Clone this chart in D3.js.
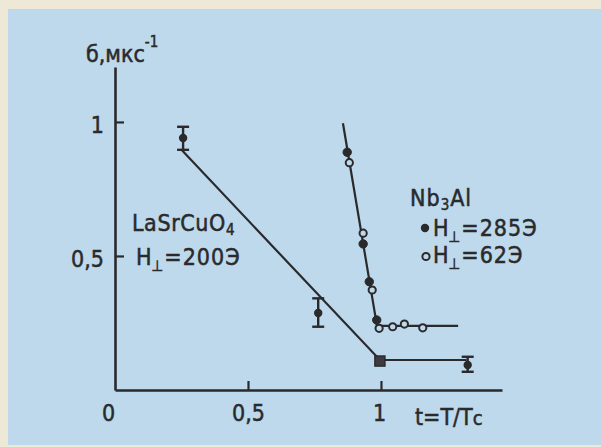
<!DOCTYPE html>
<html><head><meta charset="utf-8">
<script src="https://cdn.jsdelivr.net/npm/d3@7"></script>
<style>
html,body{margin:0;padding:0;background:#eee8d7;}
svg{display:block;}
text{font-family:"DejaVu Sans Condensed","Liberation Sans Narrow","DejaVu Sans",sans-serif;font-stretch:condensed;fill:#2a2a2d;stroke:#2a2a2d;stroke-width:0.5px;}
</style></head><body>
<svg id="chart" width="601" height="447"></svg>
<script>
// LaSrCuO4, H⊥ = 200 Э: relaxation rate with error bars
const laT = [0.256, 0.764, 0.996, 1.326];
const laSigma = [0.940, 0.287, 0.108, 0.093];
const laLow = [0.896, 0.236, null, 0.068];
const laHigh = [0.982, 0.342, null, 0.124];
const laFitT = [0.25, 0.996, 1.322];
const laFitSigma = [0.896, 0.112, 0.112];

// Nb3Al: H⊥ = 285 Э (filled) and H⊥ = 62 Э (open)
const nbT285 = [0.873, 0.933, 0.956, 0.984];
const nbSigma285 = [0.887, 0.545, 0.404, 0.261];
const nbT62 = [0.881, 0.933, 0.967, 0.993, 1.044, 1.088, 1.157];
const nbSigma62 = [0.848, 0.585, 0.373, 0.230, 0.236, 0.246, 0.232];
const nbFitT = [0.857, 0.985, 1.29];
const nbFitSigma = [0.995, 0.239, 0.239];

const xTicks = [0, 0.5, 1];
const xTickLabels = ["0", "0,5", "1"];
const yTicks = [0.5, 1];
const yTickLabels = ["0,5", "1"];

const ink = "#2a2a2d";
const svg = d3.select("#chart");

// paper and tinted panel
svg.append("rect").attr("width", 601).attr("height", 447).attr("fill", "#eee8d7");
svg.append("rect").attr("x", 8).attr("y", 9).attr("width", 593).attr("height", 436).attr("fill", "#bdd9eb");

const x = d3.scaleLinear().domain([0, 1.455]).range([115, 502]);
const y = d3.scaleLinear().domain([0, 1.205]).range([390, 67]);

// axes
const xAxis = d3.axisBottom(x).tickValues(xTicks)
  .tickFormat((d, i) => xTickLabels[i]).tickSizeInner(-9).tickSizeOuter(0).tickPadding(15);
const yAxis = d3.axisLeft(y).tickValues(yTicks)
  .tickFormat((d, i) => yTickLabels[i]).tickSizeInner(-9).tickSizeOuter(0).tickPadding(11);

const gx = svg.append("g").attr("transform", `translate(0,${y(0)})`).call(xAxis);
const gy = svg.append("g").attr("transform", `translate(${x(0)},0)`).call(yAxis);

[gx, gy].forEach(g => {
  g.select(".domain").attr("stroke", ink).attr("stroke-width", 2.6);
  g.selectAll(".tick line").attr("stroke", ink).attr("stroke-width", 2.2);
  g.selectAll(".tick text").attr("fill", ink).style("font-size", "23px").attr("font-family", null);
});
gx.selectAll(".tick").filter(d => d === 0).select("line").remove();
gx.selectAll(".tick").filter(d => d === 0).select("text").attr("dx", -7);
gx.selectAll(".tick").filter(d => d === 1).select("text").attr("dx", -2);
gy.selectAll(".tick text").attr("dy", "0.45em");

// axis titles
const yTitle = svg.append("text").attr("x", 86).attr("y", 62).style("font-size", "23px");
yTitle.append("tspan").text("б,мкс");
yTitle.append("tspan").attr("dy", -15).style("font-size", "15px").text("-1");

const xTitle = svg.append("text").attr("x", 415).attr("y", 425).style("font-size", "23px");
xTitle.append("tspan").text("t=T/T");
xTitle.append("tspan").style("font-size", "20px").text("c");

// fitted lines
const line = d3.line().x(d => x(d[0])).y(d => y(d[1]));
svg.append("path").datum(d3.zip(laFitT, laFitSigma)).attr("d", line)
  .attr("fill", "none").attr("stroke", ink).attr("stroke-width", 2.2);
svg.append("path").datum(d3.zip(nbFitT, nbFitSigma)).attr("d", line)
  .attr("fill", "none").attr("stroke", ink).attr("stroke-width", 2.2);

// LaSrCuO4 error bars and points
const la = laT.map((t, i) => ({t, s: laSigma[i], lo: laLow[i], hi: laHigh[i], i}));
const bars = svg.append("g").attr("stroke", ink).attr("stroke-width", 2.4);
la.filter(d => d.lo !== null).forEach(d => {
  bars.append("line").attr("x1", x(d.t)).attr("x2", x(d.t)).attr("y1", y(d.hi)).attr("y2", y(d.lo));
  [d.hi, d.lo].forEach(v => bars.append("line")
    .attr("x1", x(d.t) - 6).attr("x2", x(d.t) + 6).attr("y1", y(v)).attr("y2", y(v)));
});
svg.append("g").selectAll("circle").data(la.filter(d => d.i !== 2)).join("circle")
  .attr("cx", d => x(d.t)).attr("cy", d => y(d.s)).attr("r", 4.2).attr("fill", ink);
svg.append("g").selectAll("rect").data(la.filter(d => d.i === 2)).join("rect")
  .attr("x", d => x(d.t) - 5).attr("y", d => y(d.s) - 5).attr("width", 10).attr("height", 10)
  .attr("fill", "#3c3c40").attr("stroke", ink).attr("stroke-width", 1.5);

// Nb3Al points
svg.append("g").selectAll("circle").data(d3.zip(nbT62, nbSigma62)).join("circle")
  .attr("cx", d => x(d[0])).attr("cy", d => y(d[1])).attr("r", 3.6)
  .attr("fill", "#bdd9eb").attr("stroke", ink).attr("stroke-width", 2);
svg.append("g").selectAll("circle").data(d3.zip(nbT285, nbSigma285)).join("circle")
  .attr("cx", d => x(d[0])).attr("cy", d => y(d[1])).attr("r", 4.2)
  .attr("fill", ink).attr("stroke", ink).attr("stroke-width", 1);

// labels
function hLabel(px, py, rest) {
  const t = svg.append("text").attr("x", px).attr("y", py).style("font-size", "23px")
    .style("letter-spacing", "1px");
  t.append("tspan").text("H");
  t.append("tspan").attr("dy", 6).attr("dx", -1).style("font-size", "15px").text("⊥");
  t.append("tspan").attr("dy", -6).text(rest);
  return t;
}
const la1 = svg.append("text").attr("x", 132).attr("y", 231).style("font-size", "23px")
  .style("letter-spacing", "0.6px");
la1.append("tspan").text("LaSrCuO");
la1.append("tspan").attr("dy", 4).style("font-size", "15px").text("4");
hLabel(136, 265, "=200Э");

const nb = svg.append("text").attr("x", 410).attr("y", 206).style("font-size", "23px")
  .style("letter-spacing", "1px");
nb.append("tspan").text("Nb");
nb.append("tspan").attr("dy", 4).style("font-size", "15px").text("3");
nb.append("tspan").attr("dy", -4).text("Al");

svg.append("circle").attr("cx", 425).attr("cy", 228).attr("r", 4.2).attr("fill", ink);
hLabel(433, 236, "=285Э");
svg.append("circle").attr("cx", 426).attr("cy", 256.5).attr("r", 3.6)
  .attr("fill", "none").attr("stroke", ink).attr("stroke-width", 2);
hLabel(433, 263, "=62Э");
</script>
</body></html>
